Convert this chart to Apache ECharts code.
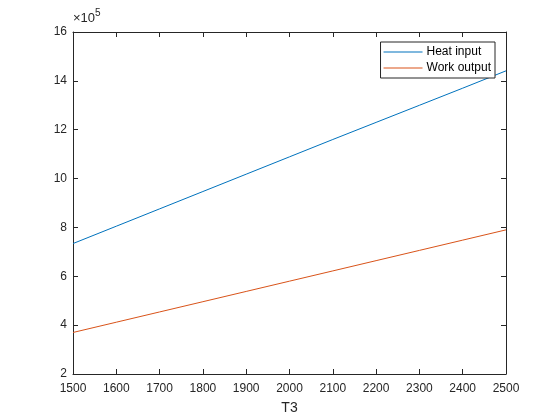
<!DOCTYPE html>
<html>
<head>
<meta charset="utf-8">
<script src="https://cdn.jsdelivr.net/npm/echarts@6/dist/echarts.min.js"></script>
<style>
  html, body { margin: 0; padding: 0; background: #fff; }
  #chart { width: 560px; height: 420px; }
</style>
</head>
<body>
<div id="chart"></div>
<script>
// T3 values and the two curves (units of 1e5)
const t3 = [1500, 1600, 1700, 1800, 1900, 2000, 2100, 2200, 2300, 2400, 2500];
const heatInput = [7.34, 8.05, 8.76, 9.47, 10.18, 10.89, 11.6, 12.3, 13.0, 13.7, 14.41];
const workOutput = [3.7, 4.12, 4.54, 4.96, 5.38, 5.8, 6.22, 6.64, 7.06, 7.48, 7.9];
const scale = 1e5;

const font = "'Liberation Sans', Arial, sans-serif";
const ink = "#262626";

const chart = echarts.init(document.getElementById("chart"));

const axisCommon = {
  axisLine: { show: true, onZero: false, lineStyle: { color: ink, width: 1 } },
  axisTick: { show: true, inside: true, length: 5, lineStyle: { color: ink } },
  splitLine: { show: false },
};

chart.setOption({
  animation: false,
  backgroundColor: "#fff",
  grid: { left: 73, right: 54, top: 32, bottom: 46, outerBoundsMode: "none" },
  legend: {
    orient: "vertical",
    right: 65,
    top: 42,
    icon: "rect",
    itemWidth: 39,
    itemHeight: 1,
    itemGap: 2,
    padding: [3, 4, 3, 3],
    borderColor: ink,
    borderWidth: 1,
    backgroundColor: "#fff",
    textStyle: { fontFamily: font, fontSize: 12, color: "#000", lineHeight: 14, padding: [0, 0, 0, -1] },
    data: ["Heat input", "Work output"],
  },
  xAxis: [
    {
      type: "value",
      min: 1500,
      max: 2500,
      interval: 100,
      name: "T3",
      nameLocation: "middle",
      nameGap: 27,
      nameTextStyle: { fontFamily: font, fontSize: 14, color: ink },
      axisLabel: { fontFamily: font, fontSize: 12, color: ink, margin: 9, formatter: (v) => String(v) },
      ...axisCommon,
    },
    {
      type: "value",
      position: "top",
      min: 1500,
      max: 2500,
      interval: 100,
      axisLabel: { show: false },
      ...axisCommon,
    },
  ],
  yAxis: [
    {
      type: "value",
      min: 2 * scale,
      max: 16 * scale,
      interval: 2 * scale,
      axisLabel: {
        fontFamily: font,
        fontSize: 12,
        color: ink,
        margin: 6,
        formatter: (v) => String(Math.round(v / scale)),
      },
      ...axisCommon,
    },
    {
      type: "value",
      position: "right",
      min: 2 * scale,
      max: 16 * scale,
      interval: 2 * scale,
      axisLabel: { show: false },
      ...axisCommon,
    },
  ],
  graphic: [
    {
      type: "text",
      left: 73,
      top: 12,
      style: { text: "×10", font: "13px " + font, fill: ink },
    },
    {
      type: "text",
      left: 95,
      top: 8,
      style: { text: "5", font: "10px " + font, fill: ink },
    },
  ],
  series: [
    {
      name: "Heat input",
      type: "line",
      symbol: "none",
      color: "#0072BD",
      lineStyle: { width: 1 },
      data: t3.map((t, i) => [t, heatInput[i] * scale]),
    },
    {
      name: "Work output",
      type: "line",
      symbol: "none",
      color: "#D95319",
      lineStyle: { width: 1 },
      data: t3.map((t, i) => [t, workOutput[i] * scale]),
    },
  ],
});
</script>
</body>
</html>
